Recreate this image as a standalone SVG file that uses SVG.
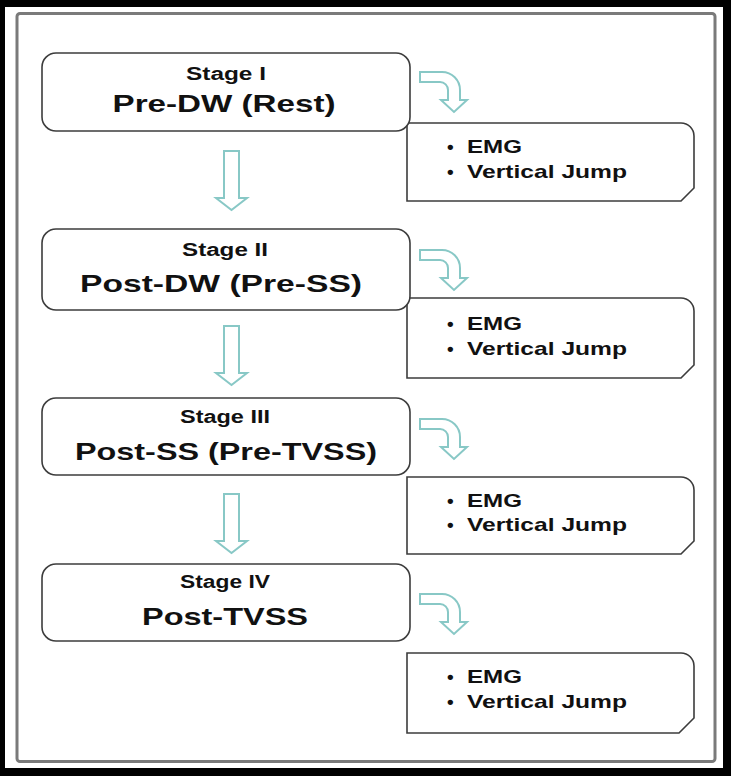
<svg xmlns="http://www.w3.org/2000/svg" width="731" height="776" viewBox="0 0 731 776">
<style>
.stage{fill:#ffffff;stroke:#3c3c3c;stroke-width:1.6}
.info{fill:#ffffff;stroke:#3c3c3c;stroke-width:1.6}
.arrow{fill:#ffffff;stroke:#88c8c6;stroke-width:2;stroke-linejoin:miter}
.t{font-family:"Liberation Sans",Arial,sans-serif;font-weight:bold;fill:#111111;text-anchor:middle}
.small{font-size:18px}
.big{font-size:24px}
.li{font-family:"Liberation Sans",Arial,sans-serif;font-weight:bold;fill:#111111;font-size:19px}
</style>
<defs>
<path id="bent" d="M420,72 L442,72 A18,18 0 0 1 460,90 L460,100 L467,100 L454,112 L441,100 L448,100 L448,90 A8,8 0 0 0 440,82 L420,82 Z"/>
<path id="down" d="M224,151 L239,151 L239,198 L247,198 L231.5,210 L216,198 L224,198 Z"/>
</defs>
<rect x="0" y="0" width="731" height="776" fill="#000000"/>
<rect x="5" y="7" width="718" height="761" fill="#ffffff"/>
<rect x="17" y="13.5" width="698" height="748" rx="3" fill="#ffffff" stroke="#7a7a7a" stroke-width="3"/>

<g id="connectors">
<use href="#down" class="arrow"/>
<use href="#down" class="arrow" transform="translate(0,175)"/>
<use href="#down" class="arrow" transform="translate(0,343)"/>
<use href="#bent" class="arrow"/>
<use href="#bent" class="arrow" transform="translate(0,178)"/>
<use href="#bent" class="arrow" transform="translate(0,347)"/>
<use href="#bent" class="arrow" transform="translate(0,522)"/>
</g>

<g id="info1">
<path class="info" d="M407,123 L681,123 A13,13 0 0 1 694,136 L694,188 L681,201 L407,201 Z"/>
<text class="li" x="447" y="153">•</text>
<text class="li" x="467" y="153" textLength="55" lengthAdjust="spacingAndGlyphs">EMG</text>
<text class="li" x="447" y="178">•</text>
<text class="li" x="467" y="178" textLength="160" lengthAdjust="spacingAndGlyphs">Vertical Jump</text>
</g>
<g id="info2">
<path class="info" d="M407,298 L681,298 A13,13 0 0 1 694,311 L694,365 L681,378 L407,378 Z"/>
<text class="li" x="447" y="330">•</text>
<text class="li" x="467" y="330" textLength="55" lengthAdjust="spacingAndGlyphs">EMG</text>
<text class="li" x="447" y="355">•</text>
<text class="li" x="467" y="355" textLength="160" lengthAdjust="spacingAndGlyphs">Vertical Jump</text>
</g>
<g id="info3">
<path class="info" d="M407,477 L681,477 A13,13 0 0 1 694,490 L694,541 L681,554 L407,554 Z"/>
<text class="li" x="447" y="507">•</text>
<text class="li" x="467" y="507" textLength="55" lengthAdjust="spacingAndGlyphs">EMG</text>
<text class="li" x="447" y="531">•</text>
<text class="li" x="467" y="531" textLength="160" lengthAdjust="spacingAndGlyphs">Vertical Jump</text>
</g>
<g id="info4">
<path class="info" d="M407,653 L681,653 A13,13 0 0 1 694,666 L694,718 L679,733 L407,733 Z"/>
<text class="li" x="447" y="683">•</text>
<text class="li" x="467" y="683" textLength="55" lengthAdjust="spacingAndGlyphs">EMG</text>
<text class="li" x="447" y="708">•</text>
<text class="li" x="467" y="708" textLength="160" lengthAdjust="spacingAndGlyphs">Vertical Jump</text>
</g>

<g id="stage1">
<rect class="stage" x="42" y="53" width="368" height="78" rx="14"/>
<text class="t small" x="226" y="80" textLength="80" lengthAdjust="spacingAndGlyphs">Stage I</text>
<text class="t big" x="224" y="112" textLength="223" lengthAdjust="spacingAndGlyphs">Pre-DW (Rest)</text>
</g>
<g id="stage2">
<rect class="stage" x="42" y="229" width="368" height="81" rx="14"/>
<text class="t small" x="225" y="256" textLength="86" lengthAdjust="spacingAndGlyphs">Stage II</text>
<text class="t big" x="221" y="292" textLength="282" lengthAdjust="spacingAndGlyphs">Post-DW (Pre-SS)</text>
</g>
<g id="stage3">
<rect class="stage" x="42" y="398" width="368" height="77" rx="14"/>
<text class="t small" x="225" y="423" textLength="90" lengthAdjust="spacingAndGlyphs">Stage III</text>
<text class="t big" x="226" y="460" textLength="302" lengthAdjust="spacingAndGlyphs">Post-SS (Pre-TVSS)</text>
</g>
<g id="stage4">
<rect class="stage" x="42" y="564" width="368" height="77" rx="14"/>
<text class="t small" x="225" y="588" textLength="90" lengthAdjust="spacingAndGlyphs">Stage IV</text>
<text class="t big" x="225" y="625" textLength="166" lengthAdjust="spacingAndGlyphs">Post-TVSS</text>
</g>
</svg>
